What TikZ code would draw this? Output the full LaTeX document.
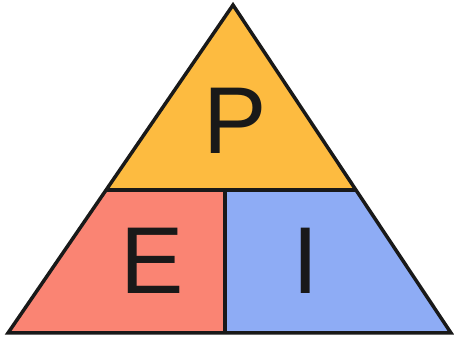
\documentclass[tikz,border=0pt]{standalone}
\usepackage{fontspec}
\setmainfont{Liberation Sans}
\usetikzlibrary{calc}
\definecolor{topc}{RGB}{253,187,64}
\definecolor{leftc}{RGB}{250,132,115}
\definecolor{rightc}{RGB}{142,172,245}
\tikzset{
  edge/.style={draw=black!90, line width=3.5pt, line join=miter},
  letter/.style={font=\fontsize{95}{95}\selectfont, text=black!90, inner sep=0pt}
}
\begin{document}
\begin{tikzpicture}[x=1pt,y=1pt]
\useasboundingbox (0,0) rectangle (454,339);
\coordinate (A) at (233,334);
\coordinate (L) at (8,6);
\coordinate (R) at (451,6);
\coordinate (ML) at ($(L)!0.436!(A)$);
\coordinate (MR) at ($(R)!0.436!(A)$);
\coordinate (MT) at (225,149);
\coordinate (MB) at (225,6);
\fill[topc] (A) -- (ML) -- (MR) -- cycle;
\fill[leftc] (ML) -- (L) -- (MB) -- (MT) -- cycle;
\fill[rightc] (MT) -- (MB) -- (R) -- (MR) -- cycle;
\draw[edge] (A) -- (L) -- (R) -- cycle;
\draw[edge] (ML) -- (MR);
\draw[edge] (MT) -- (MB);
\node[letter] (P) at (235,218) {P};
\node[letter] (E) at (152,78) {E};
\node[letter] (I) at (305.5,78) {I};
\end{tikzpicture}
\end{document}
